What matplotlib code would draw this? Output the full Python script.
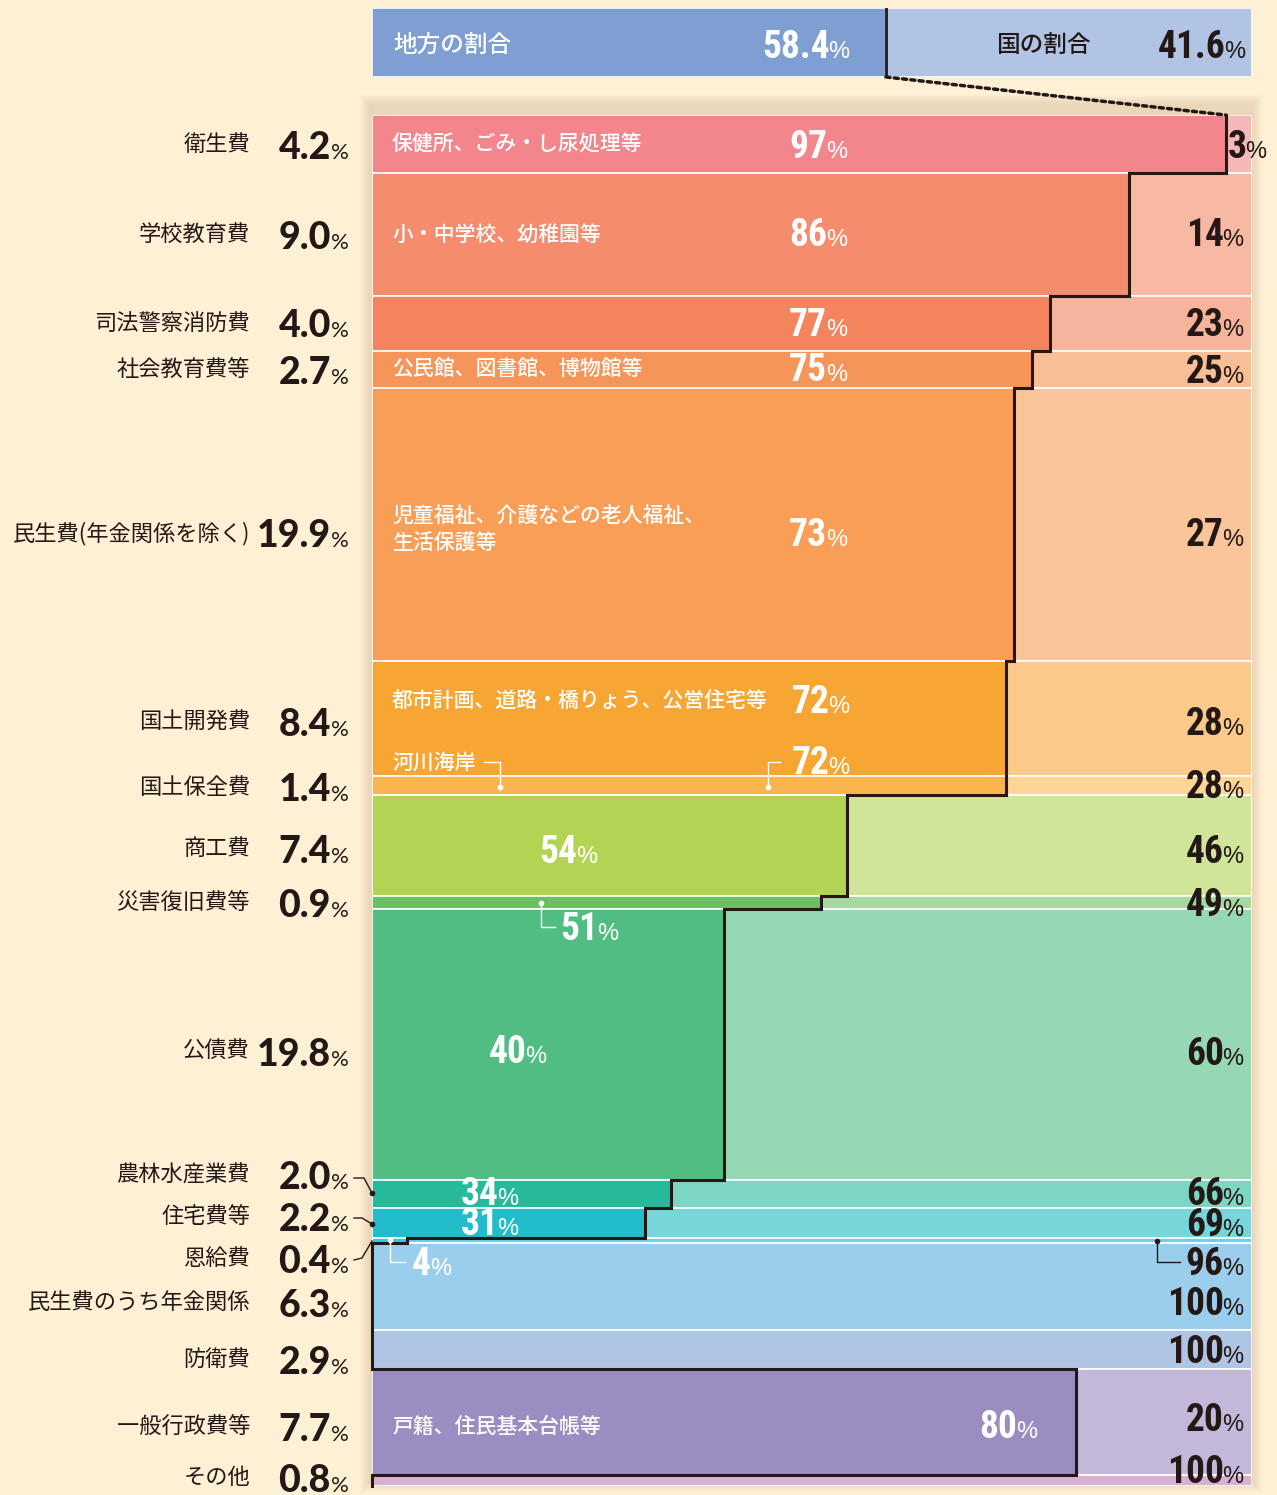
import numpy as np
import matplotlib.pyplot as plt
from matplotlib.patches import ConnectionPatch, Rectangle

# fonts
JP = ['Noto Sans CJK JP', 'DejaVu Sans']
NUM = ['Roboto Condensed', 'Liberation Sans Narrow', 'Liberation Sans', 'DejaVu Sans']
PCT = ['Liberation Sans', 'DejaVu Sans']
BIG = ['Lato', 'DejaVu Sans']
DARK = '#231815'

# data
categories = ['衛生費', '学校教育費', '司法警察消防費', '社会教育費等', '民生費(年金関係を除く)',
              '国土開発費', '国土保全費', '商工費', '災害復旧費等', '公債費', '農林水産業費',
              '住宅費等', '恩給費', '民生費のうち年金関係', '防衛費', '一般行政費等', 'その他']
shares = np.array([4.2, 9.0, 4.0, 2.7, 19.9, 8.4, 1.4, 7.4, 0.9, 19.8, 2.0, 2.2, 0.4, 6.3, 2.9, 7.7, 0.8])
local = np.array([97, 86, 77, 75, 73, 72, 72, 54, 51, 40, 34, 31, 4, 0, 0, 80, 0])
notes = ['保健所、ごみ・し尿処理等', '小・中学校、幼稚園等', '', '公民館、図書館、博物館等',
         '児童福祉、介護などの老人福祉、\n生活保護等', '都市計画、道路・橋りょう、公営住宅等', '河川海岸',
         '', '', '', '', '', '', '', '', '戸籍、住民基本台帳等', '']
total_local = 58.4
total_nat = 41.6

local_colors = ['#F2868C', '#F58C6E', '#F4845E', '#F6955A', '#F89E57', '#F7A634', '#FAB54E',
                '#B2D452', '#6CBF63', '#52BD83', '#27BA9A', '#22BCCB', '#3CC3E8', '#9BCEEC',
                '#B0C4E4', '#9B8DC2', '#D8B0D2']
nat_colors = ['#F5B8B8', '#F8B9A4', '#F7B49C', '#F8BE98', '#FAC59B', '#FBC98A', '#FCD697',
              '#D0E49A', '#A7D8A0', '#97D8B4', '#7DD6C3', '#78D6DA', '#6BD1EE', '#9BCEEC',
              '#B0C4E4', '#C3B7DA', '#D8B0D2']

# layout (pixel offsets of labels from row centres)
left_dy = [1, 1, 0, 1, 9, 4, 2, 3, 0, 7, -19, -6, 18, 16, 10, 5, -3]
local_dy = [1, -1, 0, -1, 9, -18, -24, 4, 24, 5, -2, -1, 21, 0, 0, 3, 0]
local_x = [51.7, 51.7, 51.7, 51.7, 51.7, 52.0, 52.0, 23.3, 25.7, 17.6, 14.4, 14.4, 6.7, 0, 0, 73.3, 0]
nat_dy = [1, -1, 0, 1, 9, 4, 0, 4, 0, 7, -2, 0, 21, 15, 0, -4, -11]
note_dy = [1, 1, 0, 1, 6, -17, -23, 0, 0, 0, 0, 0, 0, 0, 0, 5, 0]

W, H = 1277, 1495
PX = 8.8      # px per % horizontally
PY = 13.71    # px per % vertically

fig = plt.figure(figsize=(W / 100, H / 100), dpi=100)
fig.patch.set_facecolor('#FEF0D5')

# soft shadow behind the chart body
for k in range(10):
    fig.patches.append(Rectangle(((372 - 12 + k) / W, (H - 1492 + k) / H),
                                 (880 + 22 - 2 * k) / W, (1385 + 12 - 2 * k) / H,
                                 transform=fig.transFigure, color='#9c7b45',
                                 alpha=0.02, lw=0, zorder=-5))

ax = fig.add_axes([372 / W, (H - 1486) / H, 880 / W, 1371 / H])
ax_top = fig.add_axes([372 / W, (H - 77) / H, 880 / W, 69 / H])

tops = np.concatenate([[0], np.cumsum(shares)[:-1]])
centers = tops + shares / 2
nat = 100 - local

ax.barh(centers, local, height=shares, color=local_colors, edgecolor='white', linewidth=1.2)
ax.barh(centers, nat, left=local, height=shares, color=nat_colors, edgecolor='white', linewidth=1.2)
ax.set_xlim(0, 100)
ax.set_ylim(100, 0)
ax.axis('off')

# staircase border between local and national
xs, ys = [], []
for i in range(len(shares)):
    xs += [local[i], local[i]]
    ys += [tops[i], tops[i] + shares[i]]
ax.plot(xs, ys, color=DARK, lw=2.2, solid_joinstyle='miter', clip_on=False, zorder=5)


def pct(a, x, y, num, size, color, family, psize=17, pfamily=PCT, transform=None, weight='bold'):
    if transform is None:
        tr, px = a.transData, x - 0.15
    else:
        tr, px = transform, x
    a.text(x, y, num, ha='right', va='baseline', fontsize=size, color=color,
           family=family, weight=weight, transform=tr, zorder=6, clip_on=False)
    a.text(px, y, '%', ha='left', va='baseline', fontsize=psize, color=color,
           family=pfamily, transform=tr, zorder=6, clip_on=False)


yt = ax.get_yaxis_transform()
for i in range(len(shares)):
    c = centers[i]
    # left category labels
    ax.text(-0.1386, c + left_dy[i] / PY, categories[i], ha='right', va='center',
            fontsize=16, family=JP, color=DARK, transform=yt, clip_on=False)
    pct(ax, -0.0466, c + (left_dy[i] + 14) / PY, f'{shares[i]:.1f}', 27, DARK, BIG,
        psize=16, pfamily=BIG, transform=yt, weight='black')
    # local share labels
    if local[i] > 0:
        pct(ax, local_x[i], c + (local_dy[i] + 13) / PY, f'{local[i]}', 27, 'white', NUM)
    # national share labels
    nx = 99.4 if i == 0 else 96.8
    pct(ax, nx, c + (nat_dy[i] + 13) / PY, f'{nat[i]}', 27, DARK, NUM)
    # descriptions
    if notes[i]:
        ax.text(2.27, c + note_dy[i] / PY, notes[i], ha='left', va='center', fontsize=15,
                family=JP, weight='medium', color='white', linespacing=1.3, zorder=6)


def P(xp, yp):
    return (xp - 372) / PX, (yp - 115) / PY


def leader(pts, dot=None, color='white'):
    d = np.array([P(*p) for p in pts])
    ax.plot(d[:, 0], d[:, 1], color=color, lw=1, clip_on=False, zorder=6)
    if dot is not None:
        dx, dy = P(*dot)
        ax.plot(dx, dy, 'o', ms=3, color=color, clip_on=False, zorder=6)


leader([(484, 762), (500, 762), (500, 787)], dot=(500, 787))
leader([(768, 787), (768, 762), (780, 762)], dot=(768, 787))
leader([(541, 903), (541, 927), (555, 927)], dot=(541, 903))
leader([(390, 1240), (390, 1262), (405, 1262)], dot=(390, 1240))
leader([(1157, 1241), (1157, 1262), (1180, 1262)], dot=(1157, 1241), color=DARK)
leader([(354, 1178), (364, 1178), (372, 1193)], dot=(372, 1193), color=DARK)
leader([(354, 1218), (362, 1218), (372, 1224)], dot=(372, 1224), color=DARK)
leader([(354, 1260), (362, 1258), (372, 1241)], color=DARK)

# top bar: local vs national overall
ax_top.barh(0, total_local, height=1, color='#7F9FD3', edgecolor='white', linewidth=1.2)
ax_top.barh(0, total_nat, left=total_local, height=1, color='#B1C4E4', edgecolor='white', linewidth=1.2)
ax_top.plot([total_local, total_local], [-0.5, 0.5], color=DARK, lw=2)
ax_top.set_xlim(0, 100)
ax_top.set_ylim(-0.5, 0.5)
ax_top.axis('off')
ax_top.text(2.4, -0.04, '地方の割合', ha='left', va='center', fontsize=17, family=JP,
            weight='medium', color='white')
pct(ax_top, 52.0, -0.23, f'{total_local}', 27, 'white', NUM)
ax_top.text(70.9, -0.04, '国の割合', ha='left', va='center', fontsize=17, family=JP,
            weight='medium', color=DARK)
pct(ax_top, 97.0, -0.23, f'{total_nat}', 27, DARK, NUM)

con = ConnectionPatch(xyA=(total_local, -0.5), coordsA=ax_top.transData,
                      xyB=(local[0], 0), coordsB=ax.transData,
                      color=DARK, lw=2.5, linestyle=(0, (1.2, 1.2)))
fig.add_artist(con)

fig.savefig('out.png', dpi=100, facecolor=fig.get_facecolor())
